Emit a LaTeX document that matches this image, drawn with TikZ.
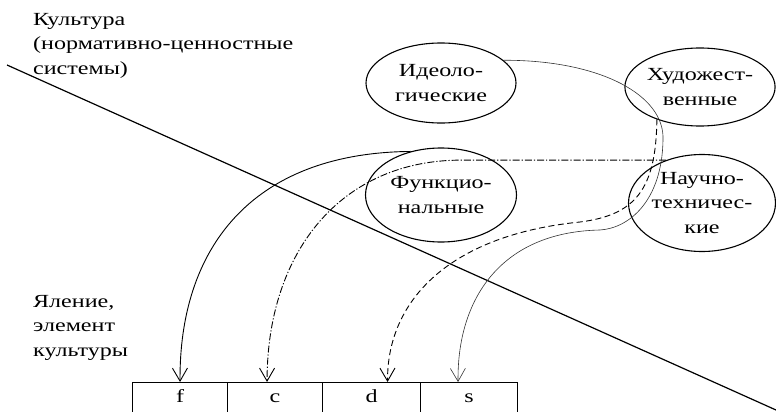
\documentclass[tikz,border=0pt]{standalone}
\usepackage{fontspec}
\setmainfont{Liberation Serif}[FakeStretch=1.3]
\usetikzlibrary{shapes.geometric, arrows.meta}

\begin{document}
\begin{tikzpicture}[x=1pt, y=-1pt,
  txt/.style={font=\fontsize{18.5}{24.5}\selectfont},
  oval/.style={txt, draw, ellipse, line width=1.1pt, inner sep=0pt, align=center},
  cell/.style={txt, draw, line width=1.1pt, anchor=north west, minimum height=31pt, inner sep=0pt, text height=13pt, text depth=4pt},
  lbl/.style={txt, align=left, anchor=north west, inner sep=0pt},
  arr/.style={-{Straight Barb[length=13pt, width=15pt]}, line width=0.9pt},
  thinarr/.style={arr, line width=0.6pt, draw=black!80},
]
  \useasboundingbox (0,0) rectangle (776,412);

  % Labels
  \node[lbl] (culture) at (33,13) {Культура\\(нормативно-ценностные\\системы)};
  \node[lbl] (element) at (33,295) {Яление,\\элемент\\культуры};

  % Dividing line
  \draw[line width=1.2pt] (7,65) -- (776,410);

  % Systems
  \node[oval, minimum width=150pt, minimum height=80pt] (ideo) at (441,83) {Идеоло-\\гические};
  \node[oval, minimum width=150pt, minimum height=78pt] (art) at (700,87) {Художест-\\венные};
  \node[oval, minimum width=151pt, minimum height=94pt] (fun) at (441,195) {Функцио-\\нальные};
  \node[oval, minimum width=147pt, minimum height=97pt] (sci) at (702,203) {Научно-\\техничес-\\кие};

  % Element parts
  \node[cell, minimum width=95pt] (f) at (132,382) {f};
  \node[cell, minimum width=95pt] (c) at (227,382) {c};
  \node[cell, minimum width=98pt] (d) at (322,382) {d};
  \node[cell, minimum width=97pt] (s) at (420,382) {s};

  % Arrows
  \draw[arr] (fun.125) .. controls (250,153) and (179,250) .. (f.north);
  \draw[arr, dash pattern=on 7pt off 2pt on 1.2pt off 2pt]
    (sci.130) -- ++(-205,0) .. controls +(-120,0) and +(0,-130) .. ([xshift=-8pt]c.north);
  \draw[arr, dash pattern=on 6pt off 3.5pt]
    (art.217) .. controls (656,190) and (635,215) .. (580,222)
    .. controls (450,235) and (387,300) .. ([xshift=16pt]d.north);
  \draw[thinarr]
    (ideo.20) .. controls (600,60) and (665,95) .. (663,140)
    .. controls (662,200) and (630,228) .. (600,230)
    .. controls (500,232) and (457,300) .. ([xshift=-11pt]s.north);
\end{tikzpicture}
\end{document}
